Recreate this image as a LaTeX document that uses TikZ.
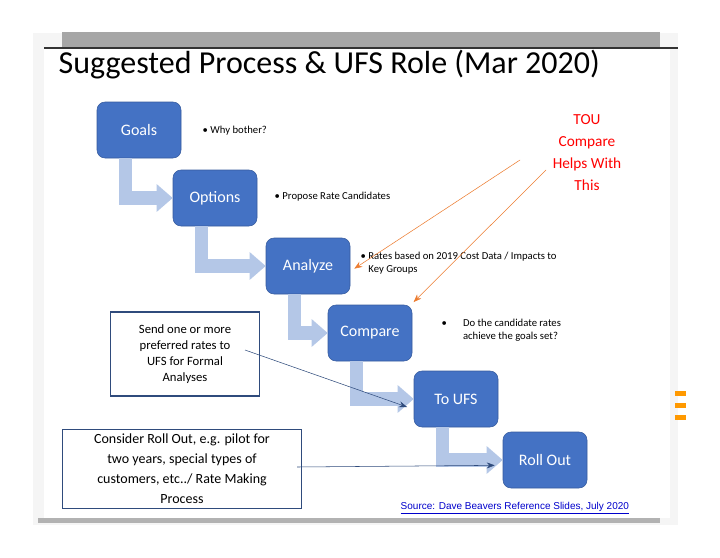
\documentclass[tikz,border=0pt]{standalone}
\usepackage{fontspec}
\setmainfont{Carlito}
\newfontfamily\arialfont{Liberation Sans}
\usetikzlibrary{positioning,arrows.meta}

\definecolor{stepblue}{HTML}{4472C4}
\definecolor{flowblue}{HTML}{B4C7E7}
\definecolor{touorange}{HTML}{ED7D31}
\definecolor{notenavy}{HTML}{2F4B7C}

\tikzset{
    stepbox/.style={draw=stepblue!80!black, fill=stepblue, rounded corners=6pt, text=white,
        minimum width=63pt, minimum height=42pt, font=\fontsize{12}{14}\selectfont},
    flow/.style={flowblue, line width=10pt, -{Triangle[length=12pt,width=20pt]}},
    bullet/.style={anchor=west, align=left, font=\fontsize{8}{10}\selectfont},
    notebox/.style={draw=notenavy, line width=1pt, align=center, font=\fontsize{9.5}{12}\selectfont},
}

\begin{document}
\begin{tikzpicture}[x=0.75pt, y=-0.75pt]
    \useasboundingbox (0,0) rectangle (720,557);

    % slide frame
    \fill[gray!8] (33,33) rectangle (678,525);
    \fill[white] (44,47) rectangle (670,518);
    \fill[gray!70] (62,32) rectangle (660,47);
    \draw[black!80, line width=2pt] (44,48) -- (678,48);
    \fill[gray!60] (38,518) rectangle (660,523);
    \foreach \y in {391,403,415} {
        \fill[orange!80!yellow] (675,\y) rectangle (686,\y+5);
    }

    \node[anchor=west, font=\fontsize{24}{28}\selectfont] (title) at (54,65) {Suggested Process \& UFS Role (Mar 2020)};

    % steps
    \node[stepbox] (goals) at (139,130) {Goals};
    \node[stepbox] (options) at (215,198) {Options};
    \node[stepbox] (analyze) at (308,266) {Analyze};
    \node[stepbox] (compare) at (370,333) {Compare};
    \node[stepbox] (toufs) at (456,399) {To UFS};
    \node[stepbox] (rollout) at (545,460) {Roll Out};

    % elbow arrows
    \draw[flow] ([xshift=-10pt]goals.south) |- (options.west);
    \draw[flow] ([xshift=-10pt]options.south) |- (analyze.west);
    \draw[flow] ([xshift=-10pt]analyze.south) |- (compare.west);
    \draw[flow] ([xshift=-10pt]compare.south) |- (toufs.west);
    \draw[flow] ([xshift=-10pt]toufs.south) |- (rollout.west);

    % bullets
    \node[bullet] (b1) at (198,131) {\textbullet\ Why bother?};
    \node[bullet] (b2) at (270,197) {\textbullet\ Propose Rate Candidates};
    \node[bullet] (b3) at (356,263) {\textbullet\ Rates based on 2019 Cost Data / Impacts to\\\phantom{\textbullet\ }Key Groups};
    \node[bullet] (b4) at (437,330) {\textbullet\hspace{12pt}Do the candidate rates\\\phantom{\textbullet}\hspace{12pt}achieve the goals set?};

    % TOU note
    \node[text=red, align=center, font=\fontsize{11.5}{16.5}\selectfont] (tou) at (587,153) {TOU\\Compare\\Helps With\\This};
    \coordinate (touA) at (520,160);
    \coordinate (touB) at (546,170);
    \draw[touorange, -{Stealth[length=6pt]}] (touA) -- ([shift={(3pt,-2pt)}]analyze.east);
    \draw[touorange, -{Stealth[length=6pt]}] (touB) -- ([shift={(1pt,2pt)}]compare.north east);

    % side notes
    \node[notebox, minimum width=112pt, minimum height=63pt] (send) at (185,354)
        {Send one or more\\preferred rates to\\UFS for Formal\\Analyses};
    \node[notebox, minimum width=179pt, minimum height=58pt, font=\fontsize{10.5}{15}\selectfont] (consider) at (182,469)
        {Consider Roll Out, e.g. pilot for\\two years, special types of\\customers, etc../ Rate Making\\Process};
    \coordinate (sendEnd) at (245,350);
    \coordinate (considerEnd) at (297,467);
    \draw[notenavy, -{Stealth[length=6pt]}] (sendEnd) -- ([shift={(-5pt,-6pt)}]toufs.west);
    \draw[notenavy, -{Stealth[length=6pt]}] (considerEnd) -- ([shift={(-6pt,-4pt)}]rollout.west);

    \node[anchor=west, text=blue!80!black, font=\arialfont\fontsize{7.5}{9}\selectfont] (source) at (396,508)
        {\underline{Source: Dave Beavers Reference Slides, July 2020}};
\end{tikzpicture}
\end{document}
